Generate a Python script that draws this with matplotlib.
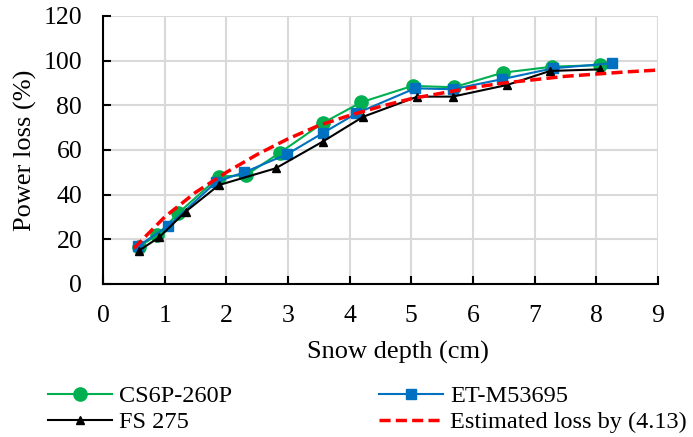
import matplotlib
matplotlib.use("Agg")
import matplotlib.pyplot as plt

plt.rcParams['font.family'] = ['Liberation Serif', 'DejaVu Serif']

# Data
cs6p_x = [0.58, 0.88, 1.22, 1.88, 2.32, 2.87, 3.56, 4.19, 5.02, 5.69, 6.48, 7.28, 8.06]
cs6p_y = [16.7, 21.9, 31.7, 48.0, 48.8, 58.8, 72.0, 81.4, 88.7, 88.1, 94.6, 97.3, 98.0]

et_x = [0.57, 1.06, 1.84, 2.29, 2.99, 3.56, 4.11, 5.06, 5.67, 6.47, 7.30, 8.25]
et_y = [17.0, 26.0, 45.8, 50.0, 58.2, 67.5, 76.4, 87.6, 87.2, 91.7, 96.6, 98.8]

fs_x = [0.58, 0.91, 1.34, 1.88, 2.80, 3.56, 4.22, 5.10, 5.67, 6.55, 7.25, 8.06]
fs_y = [14.9, 20.9, 32.4, 44.3, 51.8, 63.7, 74.9, 83.9, 83.9, 89.1, 95.4, 96.1]

est_x = [0.5, 1.0, 1.5, 2.0, 2.5, 3.0, 3.5, 4.0, 4.5, 5.0, 5.5, 6.0, 6.5, 7.0, 7.5, 8.0, 8.5, 9.0]
est_y = [16.0, 30.0, 41.0, 50.0, 58.0, 65.0, 71.0, 75.5, 79.5, 83.0, 85.5, 88.0, 90.0, 91.5, 93.0, 94.0, 95.0, 95.8]

xticks = [0, 1, 2, 3, 4, 5, 6, 7, 8, 9]
yticks = [0, 20, 40, 60, 80, 100, 120]

W, H = 693, 437
fig = plt.figure(figsize=(W/100, H/100), dpi=100)
ax = fig.add_axes([103/W, 1 - 284/H, (658 - 103)/W, (284 - 16)/H])

green = '#00b050'
blue = '#0070c0'

ax.plot(cs6p_x, cs6p_y, color=green, lw=1.5, marker='o', ms=9.5, label='CS6P-260P', zorder=3)
ax.plot(et_x, et_y, color=blue, lw=1.5, marker='s', ms=7, label='ET-M53695', zorder=4)
ax.plot(fs_x, fs_y, color='black', lw=1.5, marker='^', ms=6, label='FS 275', zorder=5)
ax.plot(est_x, est_y, color='#ff0000', lw=2.5, ls=(0, (3.2, 1.5)), label='Estimated loss by (4.13)', zorder=6)

ax.set_xlim(0, 9)
ax.set_ylim(0, 120)
ax.set_xticks(xticks)
ax.set_yticks(yticks)
ax.grid(True, color='#d9d9d9', lw=1.5, zorder=0)
ax.set_axisbelow(True)
for s in ['top', 'right']:
    ax.spines[s].set_visible(False)
for s in ['left', 'bottom']:
    ax.spines[s].set_linewidth(1.5)
    ax.spines[s].set_color('black')
ax.tick_params(direction='in', length=6, width=1.5, labelsize=18.5)
ax.tick_params(axis='x', pad=15)
ax.tick_params(axis='y', pad=15)

ax.set_xlabel('Snow depth (cm)', fontsize=19, va='center')
ax.xaxis.set_label_coords((398 - 103)/555, (284 - 352)/268)
ax.set_ylabel('Power loss (%)', fontsize=19, va='center')
ax.yaxis.set_label_coords((25 - 103)/555, 0.5)

h, l = ax.get_legend_handles_labels()
order = [0, 2, 1, 3]
fs_leg = 17.5
em = fs_leg*100/72
fig.legend([h[i] for i in order], [l[i] for i in order], ncol=2, loc='upper left',
           bbox_to_anchor=(48/W, 1 - 385/H), frameon=False, fontsize=fs_leg,
           borderpad=0, borderaxespad=0,
           handlelength=64/em, handletextpad=7/em,
           columnspacing=147/em, labelspacing=0.18)

fig.savefig('out.png', dpi=100)
